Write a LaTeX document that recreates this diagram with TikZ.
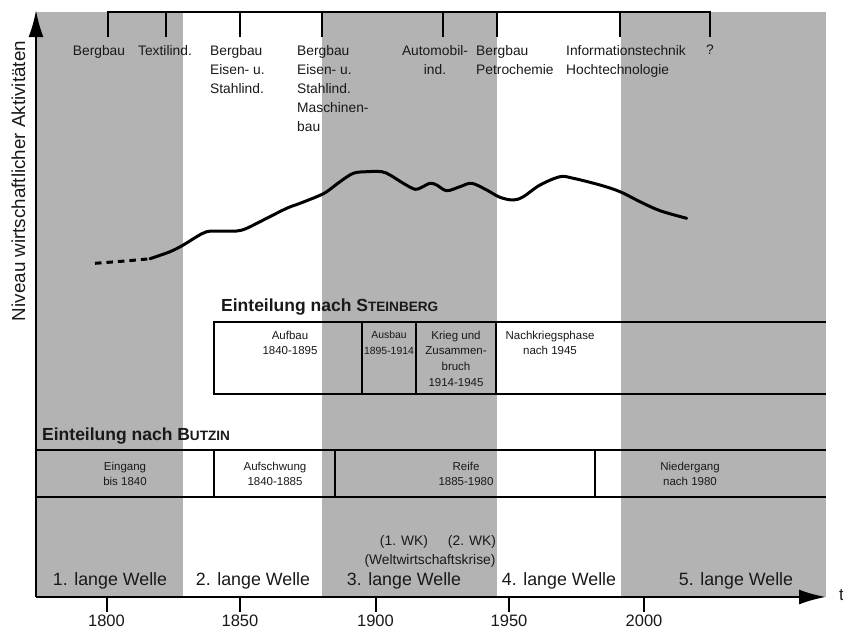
\documentclass[tikz,border=0pt]{standalone}
\usepackage{fontspec}
\setmainfont{Liberation Sans}
\usetikzlibrary{arrows.meta}
\definecolor{bandgray}{RGB}{179,179,179}
\definecolor{ink}{RGB}{25,25,25}
\newcommand{\fs}[2]{\fontsize{#1pt}{#2pt}\selectfont}
\newcommand{\smc}[1]{{\fs{13.6}{20}#1}}
\begin{document}
\begin{tikzpicture}[x=1pt,y=-1pt,
  band/.style={fill=bandgray,draw=none},
  axisline/.style={line width=2.4pt,-{Latex[length=27pt,width=15pt]}},
  rule/.style={line width=2pt,line cap=butt},
  boxline/.style={line width=2pt},
  toplab/.style={inner sep=0pt,anchor=north west,font=\fs{13.8}{19},align=left,text=ink},
  toplabc/.style={inner sep=0pt,anchor=north,font=\fs{13.8}{19},align=center,text=ink},
  cell/.style={inner sep=0pt,anchor=north,font=\fs{11.5}{15.8},align=center,text=ink},
  wave/.style={inner sep=0pt,anchor=base,font=\fs{17.8}{20},text=ink},
  yearlab/.style={inner sep=0pt,anchor=base,font=\fs{16.5}{20},text=ink},
  note/.style={inner sep=0pt,anchor=base,font=\fs{13.8}{16},text=ink},
  titlelab/.style={inner sep=0pt,anchor=base west,font=\bfseries\fs{17.5}{20},text=ink},
  curve/.style={line width=3pt,line join=round}
]
\useasboundingbox (0,0) rectangle (843,629);

% background bands
\fill[band] (36,12) rectangle (183,597);
\fill[band] (322,12) rectangle (497,597);
\fill[band] (621,12) rectangle (826,597);

% top bracket
\coordinate (b1) at (108,12);
\coordinate (b9) at (710,12);
\draw[rule] (108,37) -- (b1) -- (b9) -- (710,37);
\foreach \tx in {166,240,322,443,497,620}{
  \draw[rule] (\tx,12) -- (\tx,37);
}

% top labels
\node[toplabc] (t1) at (99,45) {Bergbau};
\node[toplabc] (t2) at (165,45) {Textilind.};
\node[toplab] (t3) at (210,45) {Bergbau\\Eisen- u.\\Stahlind.};
\node[toplab] (t4) at (297,45) {Bergbau\\Eisen- u.\\Stahlind.\\Maschinen-\\bau};
\node[toplabc] (t5) at (435,45) {Automobil-\\ind.};
\node[toplab] (t6) at (476,45) {Bergbau\\Petrochemie};
\node[toplab] (t7) at (566,45) {Informationstechnik\\Hochtechnologie};
\node[toplabc] (t8) at (710,45) {?};

% curve
\draw[curve,line cap=butt,dash pattern=on 6.5pt off 5pt] (95,263.3) .. controls (115,261.8) and (135,260.3) .. (150,258.7);
\draw[curve,line cap=round] plot[smooth,tension=0.55] coordinates {(150,258.7) (170,251.7) (183.3,245) (196.7,236.7) (206.7,231.7) (220,231) (236.7,231) (246.7,228.3) (266.7,218.3) (286.7,208.3) (300,203.3) (316.7,196.7) (326.7,191.7) (340,181.7) (353.3,173.3) (366.7,171.7) (381.7,171.7) (390,175) (403.3,183.3) (415,189.3) (421.7,187.3) (430,183.3) (436.7,185) (446.7,190.7) (460,186.7) (471.7,183.3) (486.7,190) (500,197.3) (513.3,200) (523.3,196.7) (540,185) (560,176.7) (573.3,178.3) (600,185) (620,191.7) (640,201.7) (660,210.7) (686.7,218.3)};

% Steinberg
\node[titlelab] (stitle) at (221,311.5) {Einteilung nach S\smc{TEINBERG}};
\draw[boxline] (826,322) -- (214,322) -- (214,394) -- (826,394);
\foreach \dx in {362,416,496}{
  \draw[boxline] (\dx,322) -- (\dx,394);
}
\node[cell] (s1) at (290,330.5) {Aufbau\\1840-1895};
\node[cell,font=\fs{10.4}{15.8}] (s2) at (389,330.5) {Ausbau\\1895-1914};
\node[cell] (s3) at (456,330.5) {Krieg und\\Zusammen-\\bruch\\1914-1945};
\node[cell] (s4) at (550,330.5) {Nachkriegsphase\\nach 1945};

% Butzin
\node[titlelab] (btitle) at (42,440.7) {Einteilung nach B\smc{UTZIN}};
\draw[boxline] (36,450) -- (826,450);
\draw[boxline] (36,497) -- (826,497);
\foreach \dx in {214,335,595}{
  \draw[boxline] (\dx,450) -- (\dx,497);
}
\node[cell,font=\fs{11.5}{15.5}] (z1) at (125,461.5) {Eingang\\bis 1840};
\node[cell,font=\fs{11.5}{15.5}] (z2) at (275,461.5) {Aufschwung\\1840-1885};
\node[cell,font=\fs{11.5}{15.5}] (z3) at (466,461.5) {Reife\\1885-1980};
\node[cell,font=\fs{11.5}{15.5}] (z4) at (690,461.5) {Niedergang\\nach 1980};

% notes
\node[note] (wk1) at (404,545) {(1. WK)};
\node[note] (wk2) at (472,545) {(2. WK)};
\node[note] (wwk) at (430,564.5) {(Weltwirtschaftskrise)};

% waves
\node[wave] (w1) at (110,585.5) {1. lange Welle};
\node[wave] (w2) at (253,585.5) {2. lange Welle};
\node[wave] (w3) at (404,585.5) {3. lange Welle};
\node[wave] (w4) at (559,585.5) {4. lange Welle};
\node[wave] (w5) at (736,585.5) {5. lange Welle};

% axes
\coordinate (O) at (36,597);
\coordinate (ytip) at (36,10);
\coordinate (xtip) at (826,597);
\draw[axisline] (O) -- (ytip);
\draw[axisline] (O) -- (xtip);
\node[inner sep=0pt,anchor=base west,font=\fs{17}{20},text=ink] (tlab) at (839,600) {t};
\node[inner sep=0pt,anchor=base,rotate=90,font=\fs{18.8}{20},text=ink] (ylab) at (25,181) {Niveau wirtschaftlicher Aktivitäten};

% ticks and years
\foreach \yx/\yr in {106.5/1800,240/1850,375.5/1900,509/1950,644/2000}{
  \draw[rule] (\yx,597) -- (\yx,612);
  \node[yearlab] (yr\yr) at (\yx,626) {\yr};
}
\end{tikzpicture}
\end{document}
